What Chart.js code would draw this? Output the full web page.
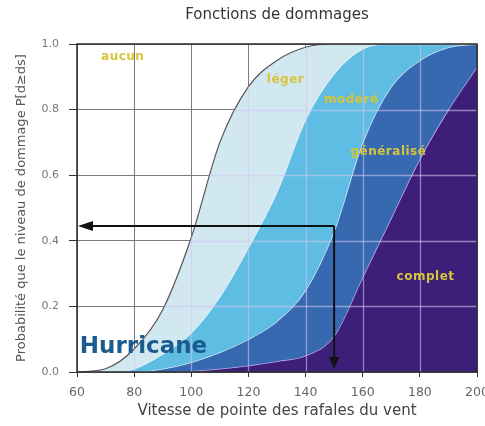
<!DOCTYPE html>
<html>
<head>
<meta charset="utf-8">
<script src="https://cdn.jsdelivr.net/npm/chart.js@4.4.1/dist/chart.umd.min.js"></script>
<style>
  html, body { margin: 0; padding: 0; background: #fff; }
  #wrap { width: 485px; height: 426px; }
</style>
</head>
<body>
<div id="wrap"><canvas id="chart"></canvas></div>
<script>
// vitesse de pointe des rafales (axe x)
var speeds = [60, 70, 80, 90, 100, 110, 120, 130, 140, 150, 160, 170, 180, 190, 200];
// P[d >= ds] pour chaque état de dommage
var pLeger      = [0, 0.01, 0.07, 0.19, 0.41, 0.70, 0.87, 0.95, 0.99, 1, 1, 1, 1, 1, 1];
var pModere     = [0, 0, 0.01, 0.055, 0.12, 0.23, 0.38, 0.55, 0.77, 0.91, 0.985, 1, 1, 1, 1];
var pGeneralise = [0, 0, 0, 0.01, 0.03, 0.06, 0.10, 0.155, 0.25, 0.43, 0.70, 0.87, 0.95, 0.99, 1];
var pComplet    = [0, 0, 0, 0, 0.003, 0.01, 0.02, 0.033, 0.05, 0.11, 0.29, 0.47, 0.65, 0.80, 0.93];

var xTicks = [60, 80, 100, 120, 140, 160, 180, 200];
var yTicks = [0, 0.2, 0.4, 0.6, 0.8, 1.0];

var stateNames = ['aucun', 'léger', 'modéré', 'généralisé', 'complet'];
// où écrire le nom de chaque zone (vitesse, probabilité)
var stateSpeed = [76, 133, 156, 169, 182];
var stateProb = [0.96, 0.89, 0.83, 0.67, 0.29];

var hurricaneSpeed = 61, hurricaneProb = 0.058;
var arrowSpeed = 150, arrowProb = 0.445;

var FONT = "'DejaVu Sans', 'Liberation Sans', Arial, sans-serif";

function pts(values) {
  return speeds.map(function (s, i) { return { x: s, y: values[i] }; });
}

function curve(label, values, fill, bg, line, width) {
  return {
    label: label,
    data: pts(values),
    fill: fill,
    backgroundColor: bg,
    borderColor: line,
    borderWidth: width,
    pointRadius: 0,
    cubicInterpolationMode: 'monotone'
  };
}

// grille claire par-dessus les zones colorées, cadre, flèches, textes
var overlay = {
  id: 'overlay',
  afterDatasetsDraw: function (chart) {
    var ctx = chart.ctx;
    var a = chart.chartArea;
    var xs = chart.scales.x, ys = chart.scales.y;

    ctx.save();
    ctx.beginPath();
    chart.getDatasetMeta(0).dataset.path(ctx);
    ctx.lineTo(a.right, a.bottom);
    ctx.lineTo(a.left, a.bottom);
    ctx.closePath();
    ctx.clip();
    ctx.strokeStyle = 'rgba(205,198,238,0.6)';
    ctx.lineWidth = 1.3;
    xTicks.forEach(function (v) {
      var px = Math.round(xs.getPixelForValue(v)) + 0.5;
      ctx.beginPath(); ctx.moveTo(px, a.top); ctx.lineTo(px, a.bottom); ctx.stroke();
    });
    yTicks.forEach(function (v) {
      var py = Math.round(ys.getPixelForValue(v)) + 0.5;
      ctx.beginPath(); ctx.moveTo(a.left, py); ctx.lineTo(a.right, py); ctx.stroke();
    });
    ctx.restore();

    ctx.save();
    ctx.strokeStyle = '#2a2a2a';
    ctx.lineWidth = 1.5;
    ctx.strokeRect(a.left, a.top, a.right - a.left, a.bottom - a.top);
    ctx.restore();

    // flèches
    var ax = xs.getPixelForValue(arrowSpeed);
    var ay = ys.getPixelForValue(arrowProb);
    var x0 = xs.getPixelForValue(60) + 1;
    var y0 = ys.getPixelForValue(0) - 3;
    ctx.save();
    ctx.strokeStyle = '#111';
    ctx.fillStyle = '#111';
    ctx.lineWidth = 2;
    ctx.beginPath();
    ctx.moveTo(ax, ay); ctx.lineTo(x0 + 12, ay);
    ctx.moveTo(ax, ay); ctx.lineTo(ax, y0 - 10);
    ctx.stroke();
    ctx.beginPath();
    ctx.moveTo(x0, ay); ctx.lineTo(x0 + 15, ay - 5); ctx.lineTo(x0 + 15, ay + 5); ctx.closePath();
    ctx.fill();
    ctx.beginPath();
    ctx.moveTo(ax, y0); ctx.lineTo(ax - 5, y0 - 12); ctx.lineTo(ax + 5, y0 - 12); ctx.closePath();
    ctx.fill();
    ctx.restore();

    // noms des zones
    ctx.save();
    ctx.font = 'bold 12px ' + FONT;
    ctx.fillStyle = '#d6c53a';
    ctx.textAlign = 'center';
    ctx.textBaseline = 'middle';
    if ('letterSpacing' in ctx) ctx.letterSpacing = '0.5px';
    stateNames.forEach(function (name, i) {
      ctx.fillText(name, xs.getPixelForValue(stateSpeed[i]), ys.getPixelForValue(stateProb[i]));
    });
    ctx.restore();

    ctx.save();
    ctx.font = 'bold 23px ' + FONT;
    ctx.fillStyle = '#1c5b8e';
    ctx.textAlign = 'left';
    ctx.textBaseline = 'alphabetic';
    ctx.fillText('Hurricane', xs.getPixelForValue(hurricaneSpeed), ys.getPixelForValue(hurricaneProb));
    ctx.restore();
  }
};

new Chart(document.getElementById('chart').getContext('2d'), {
  type: 'line',
  data: {
    datasets: [
      curve('léger', pLeger, '+1', '#d2e8f1', '#555555', 1.2),
      curve('modéré', pModere, '+1', '#5fbce2', '#e6f5fb', 1.5),
      curve('généralisé', pGeneralise, '+1', '#3769b1', '#d4ecf8', 1.5),
      curve('complet', pComplet, 'origin', '#3d1e79', '#c8a8f0', 1.5)
    ]
  },
  options: {
    responsive: true,
    maintainAspectRatio: false,
    devicePixelRatio: 1,
    animation: false,
    layout: { padding: { left: 0, right: 8, top: 0, bottom: 0 } },
    plugins: {
      legend: { display: false },
      tooltip: { enabled: false },
      title: {
        display: true,
        text: 'Fonctions de dommages',
        fullSize: false,
        color: '#333',
        font: { family: FONT, size: 15, weight: 'normal' },
        padding: { top: 6, bottom: 20 }
      }
    },
    scales: {
      x: {
        type: 'linear',
        min: 60,
        max: 200,
        afterBuildTicks: function (s) { s.ticks = xTicks.map(function (v) { return { value: v }; }); },
        afterFit: function (s) { s.height = 54; s.paddingLeft = 0; s.paddingRight = 0; },
        border: { display: false },
        grid: { color: '#7a7a7a', tickLength: 5, tickColor: '#333' },
        ticks: { color: '#666', padding: 8, maxRotation: 0, font: { family: FONT, size: 12.5 } },
        title: {
          display: true,
          text: 'Vitesse de pointe des rafales du vent',
          color: '#444',
          font: { family: FONT, size: 15 },
          padding: { top: 0, bottom: 6 }
        }
      },
      y: {
        min: 0,
        max: 1,
        afterBuildTicks: function (s) { s.ticks = yTicks.map(function (v) { return { value: v }; }); },
        afterFit: function (s) { s.width = 77; s.paddingTop = 0; s.paddingBottom = 0; },
        border: { display: false },
        grid: { color: '#7a7a7a', tickLength: 8, tickColor: '#333' },
        ticks: {
          color: '#777',
          padding: 10,
          font: { family: FONT, size: 11 },
          callback: function (v) { return Number(v).toFixed(1); }
        },
        title: {
          display: true,
          text: 'Probabilité que le niveau de dommage P[d≥ds]',
          color: '#555',
          font: { family: FONT, size: 13 },
          padding: { top: 14, bottom: 0 }
        }
      }
    }
  },
  plugins: [overlay]
});
</script>
</body>
</html>
